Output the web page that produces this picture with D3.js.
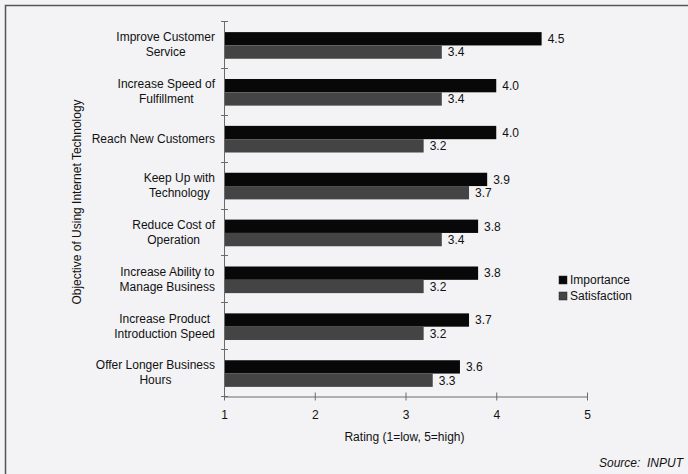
<!DOCTYPE html>
<html>
<head>
<meta charset="utf-8">
<script src="https://cdn.jsdelivr.net/npm/d3@7"></script>
<style>
  html, body { margin: 0; padding: 0; background: #f3f3f5; }
  svg { display: block; font-family: "Liberation Sans", Arial, sans-serif; }
</style>
</head>
<body>
<svg id="chart" width="688" height="474"></svg>
<script>
// Objectives (each entry is the label's lines)
const categories = [
  ["Improve Customer", "Service"],
  ["Increase Speed of", "Fulfillment"],
  ["Reach New Customers"],
  ["Keep Up with", "Technology"],
  ["Reduce Cost of", "Operation"],
  ["Increase Ability to", "Manage Business"],
  ["Increase Product", "Introduction Speed"],
  ["Offer Longer Business", "Hours"]
];
const importance   = [4.5, 4.0, 4.0, 3.9, 3.8, 3.8, 3.7, 3.6];
const satisfaction = [3.4, 3.4, 3.2, 3.7, 3.4, 3.2, 3.2, 3.3];
const seriesNames  = ["Importance", "Satisfaction"];
const xTicks       = [1, 2, 3, 4, 5];

const colors = { Importance: "#080808", Satisfaction: "#444444" };
const axisColor = "#6a6a6a";

const svg = d3.select("#chart");

// outer frame (left and top edges)
svg.append("path")
  .attr("d", "M5.5,474 V5.5 H688")
  .attr("fill", "none").attr("stroke", "#555").attr("stroke-width", 1.5);

const plot = { left: 224, right: 587, top: 21, bottom: 396 };

const x = d3.scaleLinear().domain([1, 5]).range([plot.left, plot.right]);
const y = d3.scaleBand().domain(d3.range(categories.length))
  .range([plot.top, plot.bottom]).paddingInner(0).paddingOuter(0);
const inner = d3.scaleBand().domain(seriesNames)
  .range([0, y.bandwidth()]).paddingOuter(0.76).paddingInner(0);

const rows = categories.map((c, i) => ({
  i, label: c,
  values: [
    { key: "Importance", v: importance[i] },
    { key: "Satisfaction", v: satisfaction[i] }
  ]
}));

// bars
const g = svg.append("g");
const rowG = g.selectAll("g.row").data(rows).join("g")
  .attr("class", "row")
  .attr("transform", d => `translate(0,${y(d.i) + 1})`);

rowG.selectAll("rect").data(d => d.values).join("rect")
  .attr("x", x(1))
  .attr("y", d => inner(d.key))
  .attr("width", d => x(d.v) - x(1))
  .attr("height", inner.bandwidth())
  .attr("fill", d => colors[d.key]);

rowG.selectAll("text.val").data(d => d.values).join("text")
  .attr("class", "val")
  .attr("x", d => x(d.v) + 6)
  .attr("y", d => inner(d.key) + inner.bandwidth() / 2)
  .attr("dy", "0.36em")
  .attr("font-size", 12)
  .attr("fill", "#111")
  .text(d => d3.format(".1f")(d.v));

// y axis: line with crossing ticks at category boundaries
const yAxis = svg.append("g").attr("stroke", axisColor).attr("stroke-width", 1);
yAxis.append("line")
  .attr("x1", plot.left + 0.5).attr("x2", plot.left + 0.5)
  .attr("y1", plot.top).attr("y2", plot.bottom);
yAxis.selectAll("line.tick").data(d3.range(categories.length + 1)).join("line")
  .attr("class", "tick")
  .attr("x1", plot.left - 3).attr("x2", plot.left + 4)
  .attr("y1", i => Math.round(plot.top + i * y.step()) + 0.5)
  .attr("y2", i => Math.round(plot.top + i * y.step()) + 0.5);

// category labels: lines centred on each other, block right-aligned
const labelRight = 215;
const lineH = 15;
const labG = svg.append("g").attr("font-size", 12).attr("fill", "#111");
rows.forEach(r => {
  const cy = y(r.i) + y.bandwidth() / 2;
  const t = labG.append("text").attr("text-anchor", "middle");
  r.label.forEach((line, k) => {
    t.append("tspan")
      .attr("y", cy + (k - (r.label.length - 1) / 2) * lineH)
      .attr("dy", "0.36em")
      .text(line);
  });
  const w = d3.max(t.selectAll("tspan").nodes(), n => n.getComputedTextLength());
  t.selectAll("tspan").attr("x", labelRight - w / 2);
});

// x axis
const xAxis = d3.axisBottom(x).tickValues(xTicks).tickFormat(d3.format("d"))
  .tickSizeInner(0).tickSizeOuter(0).tickPadding(14);
const xg = svg.append("g")
  .attr("transform", `translate(0,${plot.bottom + 0.5})`)
  .call(xAxis);
xg.select(".domain").attr("stroke", axisColor);
xg.selectAll(".tick line").attr("y1", -4).attr("y2", 4).attr("stroke", axisColor);
xg.selectAll(".tick text").attr("font-size", 12).attr("fill", "#111")
  .attr("font-family", "Liberation Sans, Arial, sans-serif");

// axis titles
svg.append("text")
  .attr("x", (plot.left + plot.right) / 2 - 1)
  .attr("y", 441)
  .attr("text-anchor", "middle").attr("font-size", 12).attr("fill", "#111")
  .text("Rating (1=low, 5=high)");

svg.append("text")
  .attr("transform", "translate(81,202) rotate(-90)")
  .attr("text-anchor", "middle").attr("font-size", 12).attr("fill", "#111")
  .text("Objective of Using Internet Technology");

// legend
const leg = svg.append("g").attr("transform", "translate(559,280)");
seriesNames.forEach((s, k) => {
  leg.append("rect").attr("x", 0).attr("y", k * 16 - 4)
    .attr("width", 8).attr("height", 8).attr("fill", colors[s])
    .attr("stroke", "#222").attr("stroke-width", 0.5);
  leg.append("text").attr("x", 11).attr("y", k * 16)
    .attr("dy", "0.36em").attr("font-size", 12).attr("fill", "#111").text(s);
});

// source note
svg.append("text")
  .attr("x", 683).attr("y", 467)
  .attr("text-anchor", "end").attr("font-size", 12)
  .attr("font-style", "italic").attr("fill", "#111")
  .attr("xml:space", "preserve")
  .text("Source:  INPUT");
</script>
</body>
</html>
